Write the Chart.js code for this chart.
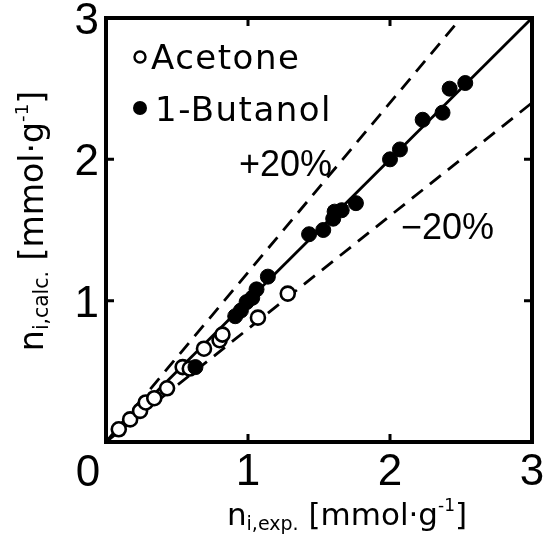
<!DOCTYPE html>
<html><head><meta charset="utf-8">
<script src="https://cdn.jsdelivr.net/npm/chart.js@4.4.1/dist/chart.umd.min.js"></script>
<style>html,body{margin:0;padding:0;background:#fff;}#wrap{width:545px;height:535px;}</style>
</head><body><div id="wrap"><canvas id="c" width="545" height="535"></canvas></div>
<script>
// Data (mmol/g)
const acetoneExp  = [0.09,0.17,0.24,0.28,0.34,0.43,0.54,0.59,0.69,0.80,0.82,1.07,1.28];
const acetoneCalc = [0.09,0.16,0.22,0.28,0.31,0.38,0.53,0.52,0.66,0.72,0.76,0.88,1.05];
const butanolExp  = [0.63,0.91,0.95,0.99,1.03,1.06,1.14,1.43,1.53,1.60,1.61,1.66,1.76,2.00,2.07,2.23,2.37,2.42,2.53];
const butanolCalc = [0.53,0.89,0.93,0.99,1.02,1.08,1.17,1.47,1.50,1.58,1.63,1.64,1.69,2.00,2.07,2.28,2.33,2.50,2.54];
const parityX = [0,3], parityY = [0,3];
const plusX = [0,2.5], plusY = [0,3];
const minusX = [0,3], minusY = [0,2.4];
const tickValues = [0,1,2,3];
const seriesNames = ['Acetone','1-Butanol'];
const bandLabels = ['+20%','\u221220%'];

const pts = (xs, ys) => xs.map((x,i)=>({x, y: ys[i]}));
const F = 'Liberation Sans';
const D = 'DejaVu Sans';

const overlay = {
  id:'overlay',
  afterDraw(chart){
    const ctx = chart.ctx, xs = chart.scales.x, ys = chart.scales.y;
    const a = chart.chartArea;
    ctx.save();
    // frame
    ctx.strokeStyle='#000'; ctx.lineWidth=4;
    ctx.strokeRect(a.left, a.top, a.right-a.left, a.bottom-a.top);
    // inward ticks
    ctx.lineWidth=3;
    [1,2].forEach(v=>{
      const px = xs.getPixelForValue(v), py = ys.getPixelForValue(v);
      ctx.beginPath();
      ctx.moveTo(px,a.bottom); ctx.lineTo(px,a.bottom-8);
      ctx.moveTo(px,a.top); ctx.lineTo(px,a.top+8);
      ctx.moveTo(a.left,py); ctx.lineTo(a.left+8,py);
      ctx.moveTo(a.right,py); ctx.lineTo(a.right-8,py);
      ctx.stroke();
    });
    // corner zero label
    ctx.fillStyle='#000';
    ctx.font = '44px "'+F+'"';
    ctx.textAlign='center'; ctx.textBaseline='alphabetic';
    ctx.fillText('0', xs.getPixelForValue(0)-18, ys.getPixelForValue(0)+44);
    // band labels
    ctx.font = '36px "'+F+'"';
    ctx.textAlign='left';
    ctx.fillText(bandLabels[0], 239, 176);
    ctx.fillText(bandLabels[1], 401, 239);
    // legend
    ctx.font = '34px "'+D+'"';
    ctx.letterSpacing = '1.5px';
    ctx.beginPath(); ctx.arc(140, 57, 5.5, 0, Math.PI*2);
    ctx.lineWidth=2.4; ctx.stroke();
    ctx.fillText(seriesNames[0], 151, 69);
    ctx.beginPath(); ctx.arc(140, 108, 7, 0, Math.PI*2); ctx.fill();
    ctx.fillText(seriesNames[1], 155, 121);
    ctx.letterSpacing = '0px';
    // axis titles with sub/superscripts
    const parts = (sub, k) => [
      {t:'n', s:31*k, dy:0},
      {t:sub, s:19*k, dy:5*k},
      {t:' [mmol\u00b7g', s:31*k, dy:0},
      {t:'-1', s:17*k, dy:-14*k},
      {t:']', s:31*k, dy:0}
    ];
    const drawRich = (ps, cx, by) => {
      let w = 0;
      ps.forEach(p=>{ ctx.font = p.s+'px "'+D+'"'; w += ctx.measureText(p.t).width; });
      let x = cx - w/2;
      ctx.textAlign='left';
      ps.forEach(p=>{ ctx.font = p.s+'px "'+D+'"'; ctx.fillText(p.t, x, by+p.dy); x += ctx.measureText(p.t).width; });
    };
    drawRich(parts('i,exp.', 1), 347, 525);
    ctx.save();
    ctx.translate(43, 221); ctx.rotate(-Math.PI/2);
    drawRich(parts('i,calc.', 1.07), 0, 0);
    ctx.restore();
    ctx.restore();
  }
};

new Chart(document.getElementById('c'), {
  type:'scatter',
  data:{datasets:[
    {label:'parity', data:pts(parityX,parityY), showLine:true, borderColor:'#000', borderWidth:2.8, pointRadius:0, order:5},
    {label:'+20%', data:pts(plusX,plusY), showLine:true, borderColor:'#000', borderWidth:2.8, borderDash:[14,9], pointRadius:0, order:5},
    {label:'-20%', data:pts(minusX,minusY), showLine:true, borderColor:'#000', borderWidth:2.8, borderDash:[14,9], pointRadius:0, order:5},
    {label:seriesNames[0], data:pts(acetoneExp,acetoneCalc), pointRadius:7, pointBorderWidth:2.6, pointBorderColor:'#000', pointBackgroundColor:'#fff', order:2},
    {label:seriesNames[1], data:pts(butanolExp,butanolCalc), pointRadius:7.5, pointBorderWidth:1, pointBorderColor:'#000', pointBackgroundColor:'#000', order:1}
  ]},
  options:{
    responsive:false, animation:false, devicePixelRatio:1,
    layout:{padding:{top:18,right:13,left:0,bottom:0}},
    plugins:{legend:{display:false}, tooltip:{enabled:false}},
    scales:{
      x:{type:'linear', min:0, max:3, afterFit(s){s.height=93; s.paddingLeft=0; s.paddingRight=0;},
         afterBuildTicks(s){s.ticks = tickValues.map(v=>({value:v}));},
         ticks:{callback:v=> v===0 ? '' : String(v), font:{family:F,size:44}, color:'#000', padding:4, maxRotation:0},
         grid:{display:false, drawTicks:false}, border:{display:false}},
      y:{type:'linear', min:0, max:3, afterFit(s){s.width=106; s.paddingTop=0; s.paddingBottom=0;},
         afterBuildTicks(s){s.ticks = tickValues.map(v=>({value:v}));},
         ticks:{callback:v=> v===0 ? '' : String(v), font:{family:F,size:44}, color:'#000', padding:7, labelOffset:4},
         grid:{display:false, drawTicks:false}, border:{display:false}}
    }
  },
  plugins:[overlay]
});
</script></body></html>
